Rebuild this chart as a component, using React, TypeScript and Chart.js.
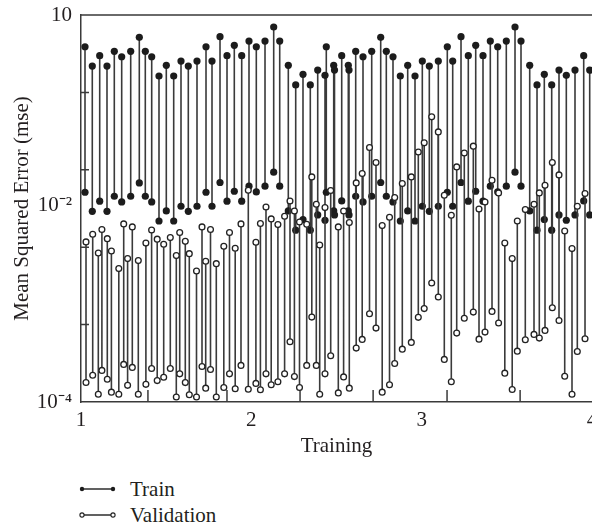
import React, { useEffect, useRef } from 'react';
import { Chart, registerables } from 'chart.js';

Chart.register(...registerables);

// ---------- data ----------
const TRAIN_X = [
  1.0235, 1.0663, 1.1098, 1.1526, 1.1955, 1.2389, 1.2918, 1.3423, 1.3775, 1.4151,
  1.4579, 1.5008, 1.5442, 1.5871, 1.63, 1.681, 1.7339, 1.7691, 1.8161, 1.8572,
  1.9, 1.9435, 1.9863, 2.0292, 2.0803, 2.1313, 2.1666, 2.2171, 2.2605, 2.3033,
  2.3462, 2.3897, 2.4325, 2.4401, 2.4836, 2.4883, 2.5306, 2.5693, 2.5734, 2.6127,
  2.6556, 2.7067, 2.7595, 2.7924, 2.8317, 2.8746, 2.918, 2.9609, 3.0038, 3.0449,
  3.0977, 3.1505, 3.1822, 3.231, 3.2738, 3.3173, 3.3601, 3.403, 3.4464, 3.4969,
  3.548, 3.5832, 3.6343, 3.6772, 3.72, 3.7634, 3.8063, 3.8492, 3.9002, 3.9513,
  3.9865,
];
const TRAIN_HIGH = [
  3.89, 2.19, 2.98, 2.19, 3.39, 2.89, 3.39, 5.15, 3.39, 2.89,
  1.63, 2.24, 1.63, 2.54, 2.19, 2.54, 3.89, 2.54, 5.24, 2.98,
  4.06, 2.98, 4.61, 3.89, 4.61, 7.0, 4.61, 2.24, 1.25, 1.71,
  1.25, 1.94, 1.66, 3.89, 2.24, 1.94, 2.98, 2.24, 1.94, 3.39,
  2.89, 3.39, 5.15, 3.39, 2.89, 1.63, 2.24, 1.63, 2.54, 2.19,
  2.54, 3.89, 2.54, 5.24, 2.98, 4.06, 2.98, 4.61, 3.89, 4.61,
  7.0, 4.61, 2.24, 1.25, 1.71, 1.25, 1.94, 1.66, 1.94, 2.98,
  1.94,
];
const TRAIN_LOW = [
  0.0513, 0.0291, 0.0393, 0.0291, 0.0455, 0.0385, 0.0455, 0.0677, 0.0455, 0.0385,
  0.0218, 0.0294, 0.0218, 0.0338, 0.0291, 0.0338, 0.0513, 0.0338, 0.0685, 0.0393,
  0.0528, 0.0393, 0.0614, 0.0518, 0.0614, 0.0931, 0.0614, 0.0294, 0.0166, 0.0228,
  0.0166, 0.0261, 0.0223, 0.0513, 0.0294, 0.0261, 0.0396, 0.0294, 0.0261, 0.0455,
  0.0385, 0.0455, 0.0685, 0.0455, 0.0385, 0.0218, 0.0294, 0.0218, 0.0338, 0.0291,
  0.0338, 0.0513, 0.0338, 0.0685, 0.0393, 0.0528, 0.0393, 0.0614, 0.0518, 0.0614,
  0.0931, 0.0614, 0.0294, 0.0166, 0.0228, 0.0166, 0.0261, 0.0223, 0.0261, 0.0396,
  0.0261,
];

const VAL_X = [
  1.0294, 1.0687, 1.1016, 1.1227, 1.1544, 1.1785, 1.2219, 1.2507, 1.2736, 1.3012,
  1.3364, 1.381, 1.4145, 1.4474, 1.4855, 1.5243, 1.5595, 1.5795, 1.6123, 1.6358,
  1.6781, 1.7104, 1.7321, 1.7603, 1.7943, 1.8384, 1.8718, 1.9053, 1.9393, 1.9822,
  2.0268, 2.0533, 2.0861, 2.1167, 2.156, 2.1953, 2.227, 2.2529, 2.2828, 2.3251,
  2.355, 2.3814, 2.4014, 2.4325, 2.466, 2.5106, 2.5417, 2.5752, 2.6157, 2.6509,
  2.6938, 2.7319, 2.7683, 2.8112, 2.8417, 2.8863, 2.9392, 2.9803, 3.0149, 3.0589,
  3.0977, 3.1329, 3.174, 3.2057, 3.2503, 3.3032, 3.3366, 3.3719, 3.413, 3.4517,
  3.4881, 3.5315, 3.5615, 3.6084, 3.6595, 3.6907, 3.7241, 3.767, 3.8063, 3.8398,
  3.8826, 3.9138, 3.959,
];
const VAL_HIGH = [
  0.0117, 0.0147, 0.00841, 0.0169, 0.0129, 0.00893, 0.00529, 0.02, 0.00712, 0.0183,
  0.00671, 0.0113, 0.0167, 0.0127, 0.0109, 0.0133, 0.00779, 0.0155, 0.0119, 0.00826,
  0.00492, 0.0183, 0.00657, 0.0169, 0.00613, 0.0103, 0.0155, 0.00968, 0.02, 0.0545,
  0.0116, 0.0202, 0.0331, 0.0232, 0.0196, 0.0251, 0.0396, 0.0294, 0.0212, 0.0198,
  0.0809, 0.0359, 0.0107, 0.0325, 0.054, 0.0183, 0.0294, 0.0208, 0.0677, 0.0896,
  0.194, 0.124, 0.019, 0.0244, 0.0438, 0.0665, 0.0809, 0.17, 0.223, 0.483,
  0.309, 0.0469, 0.0259, 0.109, 0.165, 0.202, 0.0312, 0.0384, 0.0734, 0.0503,
  0.0113, 0.00712, 0.0218, 0.0306, 0.0359, 0.0503, 0.0632, 0.124, 0.0859, 0.0162,
  0.00959, 0.0338, 0.0494,
];
const VAL_LOW = [
  1.79e-4, 2.22e-4, 1.26e-4, 2.56e-4, 1.97e-4, 1.34e-4, 1.26e-4, 3.06e-4, 1.64e-4, 2.8e-4,
  1.26e-4, 1.69e-4, 2.71e-4, 1.89e-4, 2.09e-4, 2.71e-4, 1.16e-4, 2.31e-4, 1.78e-4, 1.24e-4,
  1.16e-4, 2.88e-4, 1.51e-4, 2.63e-4, 1.16e-4, 1.54e-4, 2.31e-4, 1.48e-4, 2.97e-4, 1.46e-4,
  1.74e-4, 1.44e-4, 2.31e-4, 1.67e-4, 1.83e-4, 2.31e-4, 6.01e-4, 2.13e-4, 1.54e-4, 2.97e-4,
  1.25e-3, 2.97e-4, 1.26e-4, 2.31e-4, 3.96e-4, 1.31e-4, 2.11e-4, 1.51e-4, 4.97e-4, 6.44e-4,
  1.38e-3, 9.01e-4, 1.34e-4, 1.67e-4, 3.15e-4, 4.82e-4, 5.89e-4, 1.24e-3, 1.61e-3, 3.44e-3,
  2.27e-3, 3.55e-4, 1.83e-4, 7.76e-4, 1.21e-3, 1.45e-3, 6.49e-4, 8.0e-4, 1.48e-3, 1.05e-3,
  2.36e-4, 1.45e-4, 4.54e-4, 6.38e-4, 7.47e-4, 6.69e-4, 8.41e-4, 1.65e-3, 1.13e-3, 2.15e-4,
  1.26e-4, 4.5e-4, 6.57e-4,
];

const X_TICK_VALUES = [1, 2, 3, 4];
const X_TICK_LABELS = ['1', '2', '3', '4'];
const X_MARK_VALUES = [1.393, 1.857, 2.286, 2.715, 3.149, 3.578];
const Y_TICK_VALUES = [1e-4, 0.0348, 10];
const Y_TICK_LABELS = ['10⁻⁴', '10⁻²', '10'];
const Y_MARK_VALUES = [1, 0.1, 0.01, 0.001];

const SERIES_NAMES = ['Train', 'Validation'];
const X_TITLE = 'Training';
const Y_TITLE = 'Mean Squared Error (mse)';

// ---------- styling ----------
const FONT = "'Liberation Serif', 'Times New Roman', serif";
const INK = '#231f20';
const LINE = '#3a3a3a';

const stems = (xs: number[], hi: number[], lo: number[]) =>
  xs.flatMap((x, i) => [
    { x, y: hi[i] },
    { x, y: lo[i] },
    { x, y: null as any },
  ]);

const framePlugin = {
  id: 'frameMarks',
  beforeDatasetsDraw(chart: any) {
    const { ctx, chartArea, scales } = chart;
    const { left, right, top, bottom } = chartArea;
    ctx.save();
    ctx.strokeStyle = LINE;
    ctx.lineWidth = 1.5;
    ctx.beginPath();
    ctx.moveTo(left, top);
    ctx.lineTo(right, top);
    X_MARK_VALUES.forEach((v) => {
      const px = scales.x.getPixelForValue(v);
      ctx.moveTo(px, bottom);
      ctx.lineTo(px, bottom - 12);
    });
    Y_MARK_VALUES.forEach((v) => {
      const py = scales.y.getPixelForValue(v);
      ctx.moveTo(left, py);
      ctx.lineTo(left + 8, py);
    });
    ctx.stroke();
    ctx.restore();
  },
};

export default function App() {
  const canvasRef = useRef<HTMLCanvasElement | null>(null);

  useEffect(() => {
    document.body.style.margin = '0';
    const canvas = canvasRef.current;
    if (!canvas) return;
    const chart = new Chart(canvas, {
      type: 'line',
      data: {
        datasets: [
          {
            label: SERIES_NAMES[1],
            data: stems(VAL_X, VAL_HIGH, VAL_LOW),
            borderColor: LINE,
            borderWidth: 1.6,
            pointRadius: 2.9,
            pointBorderWidth: 1.3,
            pointBorderColor: '#222',
            pointBackgroundColor: '#ffffff',
            tension: 0,
            spanGaps: false,
            order: 0,
          },
          {
            label: SERIES_NAMES[0],
            data: stems(TRAIN_X, TRAIN_HIGH, TRAIN_LOW),
            borderColor: LINE,
            borderWidth: 1.6,
            pointRadius: 3.6,
            pointBorderWidth: 0,
            pointBackgroundColor: '#1c1c1c',
            tension: 0,
            spanGaps: false,
            order: 1,
          },
        ],
      },
      options: {
        animation: false,
        responsive: true,
        maintainAspectRatio: false,
        devicePixelRatio: 1,
        layout: { padding: { left: 6, top: 15, right: 0, bottom: 0 }, autoPadding: false },
        plugins: { legend: { display: false }, tooltip: { enabled: false } },
        events: [],
        scales: {
          x: {
            type: 'linear',
            min: 1,
            max: 4,
            afterBuildTicks: (s: any) => {
              s.ticks = X_TICK_VALUES.map((v) => ({ value: v }));
            },
            afterFit: (s: any) => {
              s.height = 61;
              s.paddingLeft = 0;
              s.paddingRight = 0;
            },
            ticks: {
              autoSkip: false,
              maxRotation: 0,
              padding: 6,
              color: INK,
              font: { family: FONT, size: 21 },
              callback: (v: any) => X_TICK_LABELS[X_TICK_VALUES.indexOf(Number(v))] ?? '',
            },
            grid: { display: true, drawOnChartArea: false, drawTicks: false },
            border: { display: true, color: LINE, width: 1.5 },
            title: {
              display: true,
              text: X_TITLE,
              color: INK,
              font: { family: FONT, size: 21 },
              padding: { top: 4, bottom: 4 },
            },
          },
          y: {
            type: 'logarithmic',
            min: 1e-4,
            max: 10,
            afterBuildTicks: (s: any) => {
              s.ticks = Y_TICK_VALUES.map((v) => ({ value: v }));
            },
            afterFit: (s: any) => {
              s.width = 75;
              s.paddingTop = 0;
              s.paddingBottom = 0;
            },
            ticks: {
              autoSkip: false,
              padding: 9,
              color: INK,
              font: { family: FONT, size: 21 },
              callback: (v: any) => {
                const i = Y_TICK_VALUES.findIndex((t) => Math.abs(t - Number(v)) / t < 1e-6);
                return i >= 0 ? Y_TICK_LABELS[i] : '';
              },
            },
            grid: { display: true, drawOnChartArea: false, drawTicks: false },
            border: { display: true, color: LINE, width: 1.5 },
            title: {
              display: true,
              text: Y_TITLE,
              color: INK,
              font: { family: FONT, size: 21 },
              padding: { top: 4, bottom: 4 },
            },
          },
        },
      },
      plugins: [framePlugin],
    } as any);
    return () => chart.destroy();
  }, []);

  const legendRow = (name: string, filled: boolean, cy: number) => (
    <div key={name} style={{ position: 'absolute', left: 0, top: cy - 13, height: 26, width: 300 }}>
      <svg width={40} height={26} style={{ position: 'absolute', left: 78, top: 0 }}>
        <line x1={4} y1={13} x2={35} y2={13} stroke={LINE} strokeWidth={1.6} />
        <circle cx={4} cy={13} r={filled ? 2.2 : 2.1} fill={filled ? '#1c1c1c' : '#fff'} stroke={filled ? 'none' : '#222'} strokeWidth={1.1} />
        <circle cx={35} cy={13} r={filled ? 2.2 : 2.1} fill={filled ? '#1c1c1c' : '#fff'} stroke={filled ? 'none' : '#222'} strokeWidth={1.1} />
      </svg>
      <span style={{ position: 'absolute', left: 130, top: 0, lineHeight: '26px', fontFamily: FONT, fontSize: 21, color: INK, whiteSpace: 'nowrap' }}>
        {name}
      </span>
    </div>
  );

  return (
    <div style={{ position: 'relative', width: 592, height: 529, overflow: 'hidden', background: '#fff' }}>
      <div style={{ position: 'absolute', left: 0, top: 0, width: 592, height: 463 }}>
        <canvas ref={canvasRef} />
      </div>
      {legendRow(SERIES_NAMES[0], true, 489)}
      {legendRow(SERIES_NAMES[1], false, 515)}
    </div>
  );
}
